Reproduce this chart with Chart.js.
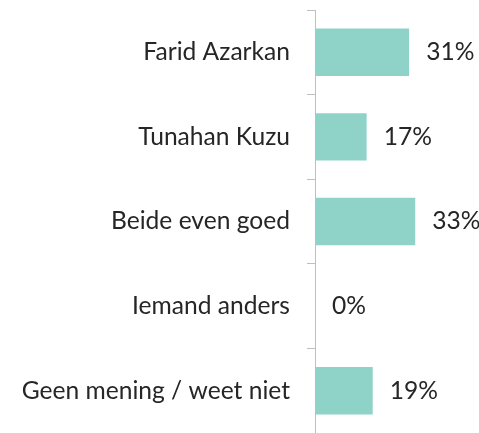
<!DOCTYPE html>
<html>
<head>
<meta charset="utf-8">
<script src="https://cdn.jsdelivr.net/npm/chart.js@4/dist/chart.umd.min.js"></script>
<style>
html,body{margin:0;padding:0;background:#fff;}
#wrap{width:479px;height:433px;position:relative;}
</style>
</head>
<body>
<div id="wrap"><canvas id="c"></canvas></div>
<script>
const categories = ["Farid Azarkan", "Tunahan Kuzu", "Beide even goed", "Iemand anders", "Geen mening / weet niet"];
const values = [31, 17, 33, 0, 19];
const valueLabels = ["31%", "17%", "33%", "0%", "19%"];

const FONT = "Lato, 'Open Sans', sans-serif";

const labelPlugin = {
  id: 'valueLabels',
  afterDatasetsDraw(chart) {
    const ctx = chart.ctx;
    const meta = chart.getDatasetMeta(0);
    ctx.save();
    ctx.font = "24.6px " + FONT;
    ctx.fillStyle = "#262626";
    ctx.textAlign = "left";
    ctx.textBaseline = "middle";
    meta.data.forEach((el, i) => {
      ctx.fillText(valueLabels[i], el.x + 17, el.y);
    });
    ctx.restore();
  }
};

new Chart(document.getElementById('c'), {
  type: 'bar',
  data: {
    labels: categories,
    datasets: [{
      data: values,
      backgroundColor: '#8fd3c8',
      borderWidth: 0,
      barPercentage: 0.56,
      categoryPercentage: 1.0
    }]
  },
  options: {
    indexAxis: 'y',
    responsive: true,
    maintainAspectRatio: false,
    animation: false,
    layout: { padding: { top: 10, bottom: 0, left: 0, right: 0 } },
    plugins: { legend: { display: false }, tooltip: { enabled: false } },
    scales: {
      x: { display: false, min: 0, max: 54 },
      y: {
        afterFit(scale) { scale.width = 315; scale.paddingTop = 0; scale.paddingBottom = 0; },
        border: { display: true, color: '#bfbfbf', width: 1 },
        grid: { offset: true, drawOnChartArea: false, drawTicks: true, tickLength: 8, color: '#bfbfbf' },
        ticks: { color: '#262626', font: { family: FONT, size: 24.6 }, padding: 17 }
      }
    }
  },
  plugins: [labelPlugin]
});
</script>
</body>
</html>
